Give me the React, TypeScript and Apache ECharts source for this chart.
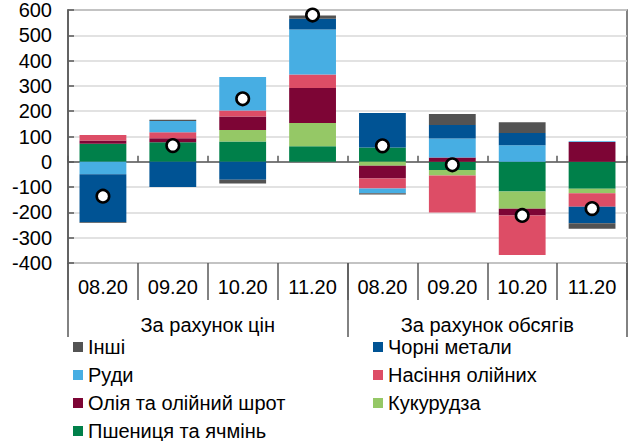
import React, { useEffect, useRef } from "react";
import * as echarts from "echarts";

const periods = ["08.20", "09.20", "10.20", "11.20", "08.20", "09.20", "10.20", "11.20"];
const groups = ["За рахунок цін", "За рахунок обсягів"];

const wheatBarley = [71, 77, 80, 61, 57, -32, -117, -107];
const corn = [0, 0, 46, 92, -16, -22, -69, -17];
const oilMeal = [13, 16, 53, 139, -50, 17, -26, 78];
const oilseeds = [22, 24, 24, 53, -40, -146, -156, -54];
const ores = [-49, 44, 132, 178, -18, 75, 65, 3];
const ferrous = [-190, -100, -71, 42, 136, 53, 49, -65];
const others = [-3, 5, -15, 13, -5, 44, 42, -22];
const totals = [-136, 64, 249, 580, 63, -12, -212, -185];

const FONT = "Liberation Sans";
const FS = 20;

export default function App() {
  const ref = useRef<HTMLDivElement>(null);
  useEffect(() => {
    const chart = echarts.init(ref.current!, null, { renderer: "svg" });
    const mk = (name: string, data: number[], color: string) => ({
      name,
      type: "bar",
      stack: "total",
      data,
      xAxisIndex: 0,
      yAxisIndex: 0,
      barCategoryGap: "33%",
      itemStyle: { color },
      emphasis: { disabled: true },
    });
    chart.setOption({
      animation: false,
      textStyle: { fontFamily: FONT },
      grid: {
        left: 68,
        top: 10,
        width: 559,
        height: 253,
        show: true,
        borderColor: "#595959",
        borderWidth: 1.5,
        containLabel: false,
      },
      yAxis: {
        type: "value",
        min: -400,
        max: 600,
        interval: 100,
        axisLine: { show: true, lineStyle: { color: "#595959", width: 1.5 } },
        axisTick: { show: true, inside: true, length: 6, lineStyle: { color: "#595959", width: 1.5 } },
        axisLabel: { fontSize: FS, color: "#000", fontFamily: FONT, margin: 16 },
        splitLine: { show: true, lineStyle: { color: "#D9D9D9", width: 1.5 } },
      },
      xAxis: [
        {
          type: "category",
          data: periods,
          position: "bottom",
          axisLine: { show: true, onZero: true, lineStyle: { color: "#595959", width: 1.5 } },
          axisTick: { show: true, inside: true, length: 6, lineStyle: { color: "#595959", width: 1.5 } },
          axisLabel: { show: false },
          splitLine: { show: false },
        },
        {
          type: "category",
          data: periods,
          position: "bottom",
          axisLine: { show: false, onZero: false },
          axisTick: { show: true, length: 37, lineStyle: { color: "#595959", width: 1.5 } },
          axisLabel: { show: true, fontSize: FS, color: "#000", fontFamily: FONT, margin: 14 },
          splitLine: { show: false },
        },
        {
          type: "category",
          data: groups,
          position: "bottom",
          axisLine: { show: false, onZero: false },
          axisTick: { show: true, length: 74, lineStyle: { color: "#595959", width: 1.5 } },
          axisLabel: { show: true, fontSize: FS, color: "#000", fontFamily: FONT, margin: 52 },
          splitLine: { show: false },
        },
      ],
      legend: [
        {
          orient: "vertical",
          left: 73,
          top: 337,
          padding: 0,
          itemWidth: 10,
          itemHeight: 10,
          itemGap: 8,
          icon: "rect",
          textStyle: { fontSize: FS, color: "#000", fontFamily: FONT },
          data: ["Інші", "Руди", "Олія та олійний шрот", "Пшениця та ячмінь"],
        },
        {
          orient: "vertical",
          left: 373,
          top: 337,
          padding: 0,
          itemWidth: 10,
          itemHeight: 10,
          itemGap: 8,
          icon: "rect",
          textStyle: { fontSize: FS, color: "#000", fontFamily: FONT },
          data: ["Чорні метали", "Насіння олійних", "Кукурудза"],
        },
      ],
      series: [
        mk("Пшениця та ячмінь", wheatBarley, "#00804A"),
        mk("Кукурудза", corn, "#95C866"),
        mk("Олія та олійний шрот", oilMeal, "#7D0535"),
        mk("Насіння олійних", oilseeds, "#DD4D66"),
        mk("Руди", ores, "#47AEE3"),
        mk("Чорні метали", ferrous, "#005394"),
        mk("Інші", others, "#535353"),
        {
          name: "Разом",
          type: "scatter",
          data: totals,
          xAxisIndex: 0,
          yAxisIndex: 0,
          symbol: "circle",
          symbolSize: 12.5,
          z: 10,
          itemStyle: { color: "#fff", borderColor: "#000", borderWidth: 2.6, opacity: 1 },
          emphasis: { disabled: true },
        },
      ],
    });
    return () => chart.dispose();
  }, []);
  return (
    <div
      ref={ref}
      style={{ position: "absolute", left: 0, top: 0, width: 628, height: 441 }}
    />
  );
}
